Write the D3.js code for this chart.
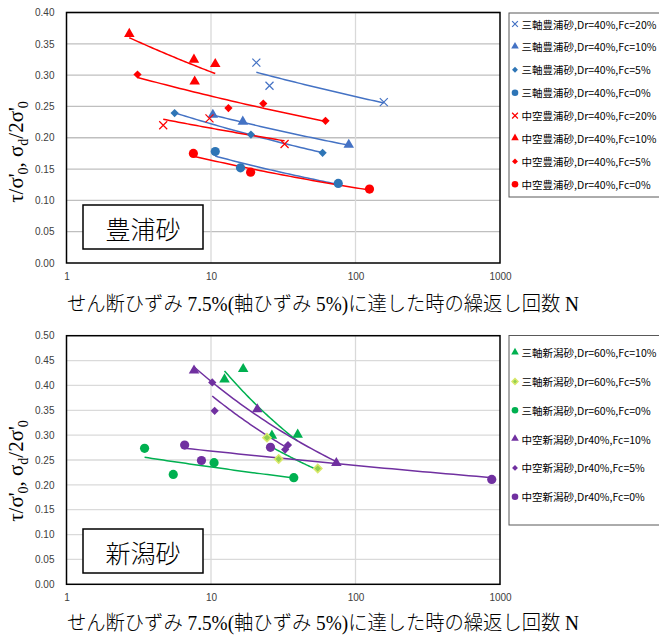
<!DOCTYPE html>
<html>
<head>
<meta charset="utf-8">
<script src="https://cdn.jsdelivr.net/npm/d3@7"></script>
<style>
  body { margin: 0; background: #fff; }
  svg { display: block; }
  .tick text { font-family: "Liberation Sans", "Open Sans", sans-serif; font-size: 10px; fill: #404040; }
  .legend text { font-family: "Noto Sans CJK JP", sans-serif; font-size: 10.5px; fill: #000; }
</style>
</head>
<body>
<div id="chart"></div>
<script>
// ---- data ----
// x = number of cycles N (log), y = tau/sigma'0 or sigma_d/2sigma'0

// 豊浦砂 (top chart)
var topNames = [
  "三軸豊浦砂,Dr=40%,Fc=20%",
  "三軸豊浦砂,Dr=40%,Fc=10%",
  "三軸豊浦砂,Dr=40%,Fc=5%",
  "三軸豊浦砂,Dr=40%,Fc=0%",
  "中空豊浦砂,Dr=40%,Fc=20%",
  "中空豊浦砂,Dr=40%,Fc=10%",
  "中空豊浦砂,Dr=40%,Fc=5%",
  "中空豊浦砂,Dr=40%,Fc=0%"
];
var topN = [
  [20.6, 25.4, 157],
  [10.3, 16.6, 89.8],
  [5.6, 18.9, 59.2],
  [10.7, 16.0, 76],
  [4.67, 9.76, 32.3],
  [2.72, 7.62, 10.7, 7.71],
  [3.1, 13.2, 23, 62],
  [7.55, 18.8, 125]
];
var topRatio = [
  [0.320, 0.283, 0.257],
  [0.236, 0.225, 0.188],
  [0.2395, 0.205, 0.176],
  [0.178, 0.152, 0.127],
  [0.220, 0.231, 0.190],
  [0.365, 0.324, 0.317, 0.289],
  [0.301, 0.2475, 0.2545, 0.227],
  [0.175, 0.145, 0.118]
];

// 新潟砂 (bottom chart)
var botNames = [
  "三軸新潟砂,Dr=60%,Fc=10%",
  "三軸新潟砂,Dr=60%,Fc=5%",
  "三軸新潟砂,Dr=60%,Fc=0%",
  "中空新潟砂,Dr40%,Fc=10%",
  "中空新潟砂,Dr40%,Fc=5%",
  "中空新潟砂,Dr40%,Fc=0%"
];
var botN = [
  [12.4, 16.7, 26.4, 39.8],
  [24.4, 29.4, 54.8],
  [3.47, 5.48, 10.5, 37.4],
  [7.63, 20.9, 73.7],
  [10.2, 10.6, 34.1, 32.6],
  [6.57, 8.59, 25.8, 877]
];
var botRatio = [
  [0.411, 0.432, 0.298, 0.300],
  [0.295, 0.252, 0.233],
  [0.2735, 0.221, 0.2446, 0.2145],
  [0.429, 0.351, 0.243],
  [0.406, 0.349, 0.280, 0.271],
  [0.280, 0.249, 0.2755, 0.211]
];

var xTicks = [1, 10, 100, 1000];
var topYTicks = [0, 0.05, 0.10, 0.15, 0.20, 0.25, 0.30, 0.35, 0.40];
var botYTicks = [0, 0.05, 0.10, 0.15, 0.20, 0.25, 0.30, 0.35, 0.40, 0.45, 0.50];

var xTitle = "せん断ひずみ 7.5%(軸ひずみ 5%)に達した時の繰返し回数 N";

// ---- marker styles ----
var blue = "#4472C4", blue2 = "#2E75B6", red = "#FF0000",
    green = "#00B050", purple = "#7030A0";

var topStyles = [
  { shape: "x", color: blue, line: blue },
  { shape: "tri", color: blue, line: blue },
  { shape: "dia", color: blue2, line: blue },
  { shape: "circ", color: blue2, line: blue },
  { shape: "x", color: red, line: red },
  { shape: "tri", color: red, line: red },
  { shape: "dia", color: red, line: red },
  { shape: "circ", color: red, line: red }
];
var botStyles = [
  { shape: "tri", color: green, line: green },
  { shape: "dia", color: "#92D050", stroke: "#D9E86A", line: green },
  { shape: "circ", color: green, line: green },
  { shape: "tri", color: purple, line: purple },
  { shape: "dia", color: purple, line: purple },
  { shape: "circ", color: purple, line: purple }
];

var width = 659, height = 636;

var svg = d3.select("#chart").append("svg")
  .attr("width", width)
  .attr("height", height);

// custom X symbol (stroked)
var symX = {
  draw: function(ctx, size) {
    var r = Math.sqrt(size) / 2;
    ctx.moveTo(-r, -r); ctx.lineTo(r, r);
    ctx.moveTo(r, -r); ctx.lineTo(-r, r);
  }
};

function marker(g, style, x, y, scale) {
  var s = scale || 1;
  if (style.shape === "x") {
    g.append("path")
      .attr("d", d3.symbol().type(symX).size(64 * s * s)())
      .attr("transform", "translate(" + x + "," + y + ")")
      .attr("fill", "none")
      .attr("stroke", style.color)
      .attr("stroke-width", 1.2);
  } else if (style.shape === "tri") {
    g.append("path")
      .attr("d", d3.symbol().type(d3.symbolTriangle).size(48 * s * s)())
      .attr("transform", "translate(" + x + "," + (y - 0.5) + ")")
      .attr("fill", style.color);
  } else if (style.shape === "dia") {
    g.append("path")
      .attr("d", d3.symbol().type(d3.symbolSquare).size(34 * s * s)())
      .attr("transform", "translate(" + x + "," + y + ") rotate(45)")
      .attr("fill", style.color)
      .attr("stroke", style.stroke || "none")
      .attr("stroke-width", style.stroke ? 1.5 : 0);
  } else {
    g.append("circle")
      .attr("cx", x).attr("cy", y)
      .attr("r", 4.6 * s)
      .attr("fill", style.color);
  }
}

// power trendline y = a * N^b (least squares on logs)
function powerFit(ns, ys) {
  var lx = ns.map(Math.log), ly = ys.map(Math.log);
  var mx = d3.mean(lx), my = d3.mean(ly);
  var sxy = d3.sum(lx, function(d, i) { return (d - mx) * (ly[i] - my); });
  var sxx = d3.sum(lx, function(d) { return (d - mx) * (d - mx); });
  var b = sxy / sxx, a = Math.exp(my - b * mx);
  return function(n) { return a * Math.pow(n, b); };
}

function drawPanel(opt) {
  var xScale = d3.scaleLog().domain([1, 1000]).range([66.5, 500]);
  var yScale = d3.scaleLinear().domain([0, opt.yMax]).range([opt.bottom, opt.top]);
  var g = svg.append("g");

  // grid
  g.selectAll(".hgrid").data(opt.yTicks.slice(1)).enter().append("line")
    .attr("x1", 66.5).attr("x2", 500)
    .attr("y1", function(d) { return yScale(d); })
    .attr("y2", function(d) { return yScale(d); })
    .attr("stroke", opt.gridColor).attr("stroke-width", 1.3);
  g.selectAll(".vgrid").data([10, 100]).enter().append("line")
    .attr("x1", function(d) { return xScale(d); })
    .attr("x2", function(d) { return xScale(d); })
    .attr("y1", opt.top).attr("y2", opt.bottom)
    .attr("stroke", "#D9D9D9").attr("stroke-width", 1.3);

  // axes
  var yAxis = d3.axisLeft(yScale).tickValues(opt.yTicks)
    .tickFormat(d3.format(".2f")).tickSize(0).tickPadding(12);
  g.append("g").attr("transform", "translate(66.5,0)").call(yAxis)
    .call(function(a) { a.select(".domain").remove(); });
  var xAxis = d3.axisBottom(xScale).tickValues(xTicks)
    .tickFormat(d3.format("d")).tickSize(0).tickPadding(10);
  g.append("g").attr("transform", "translate(0," + opt.bottom + ")").call(xAxis)
    .call(function(a) { a.select(".domain").remove(); });

  // plot border
  g.append("rect")
    .attr("x", 66.5).attr("y", opt.top)
    .attr("width", 500 - 66.5).attr("height", opt.bottom - opt.top)
    .attr("fill", "none").attr("stroke", "#000").attr("stroke-width", 1.5);

  // trendlines then points
  opt.ns.forEach(function(ns, i) {
    var f = powerFit(ns, opt.ys[i]);
    var lo = d3.min(ns), hi = d3.max(ns);
    var pts = d3.range(0, 41).map(function(k) {
      var n = lo * Math.pow(hi / lo, k / 40);
      return [xScale(n), yScale(f(n))];
    });
    g.append("path").attr("d", d3.line()(pts))
      .attr("fill", "none").attr("stroke", opt.styles[i].line)
      .attr("stroke-width", 1.5);
  });
  opt.ns.forEach(function(ns, i) {
    ns.forEach(function(n, j) {
      marker(g, opt.styles[i], xScale(n), yScale(opt.ys[i][j]));
    });
  });

  // sand name box
  g.append("rect")
    .attr("x", 83).attr("y", opt.boxY).attr("width", 120).attr("height", 44)
    .attr("fill", "#fff").attr("stroke", "#000").attr("stroke-width", 1.5);
  g.append("text")
    .attr("x", 143).attr("y", opt.boxY + 23)
    .attr("text-anchor", "middle").attr("dominant-baseline", "central")
    .style("font-family", "'Noto Sans CJK JP', sans-serif")
    .style("font-weight", 300)
    .style("font-size", "25px")
    .text(opt.boxLabel);

  // y title
  var yt = g.append("text")
    .attr("transform", "translate(23," + opt.yTitleY + ") rotate(-90)")
    .attr("text-anchor", "middle")
    .style("font-family", "'Liberation Serif', serif")
    .style("font-size", "21px");
  yt.append("tspan").text("τ/σ'");
  yt.append("tspan").attr("dy", 5).attr("dx", -1).style("font-size", "14px").text("0");
  yt.append("tspan").attr("dy", -5).text(", σ");
  yt.append("tspan").attr("dy", 5).style("font-size", "14px").text("d");
  yt.append("tspan").attr("dy", -5).text("/2σ'");
  yt.append("tspan").attr("dy", 5).attr("dx", -1).style("font-size", "14px").text("0");

  // x title
  g.append("text")
    .attr("x", 67).attr("y", opt.xTitleY)
    .attr("textLength", 512).attr("lengthAdjust", "spacingAndGlyphs")
    .style("font-family", "'Liberation Serif', 'Noto Sans CJK JP', serif")
    .style("font-weight", 300)
    .style("font-size", "20px")
    .text(xTitle);

  // legend
  var lg = g.append("g").attr("class", "legend");
  lg.append("rect")
    .attr("x", 509).attr("y", opt.legTop)
    .attr("width", 160).attr("height", opt.legBottom - opt.legTop)
    .attr("fill", "#fff").attr("stroke", "#595959").attr("stroke-width", 1);
  opt.names.forEach(function(name, i) {
    var y = opt.legFirst + i * opt.legStep;
    marker(lg, opt.styles[i], 515, y, 0.72);
    lg.append("text").attr("x", 521.5).attr("y", y)
      .attr("dominant-baseline", "central")
      .text(name);
  });
}

drawPanel({
  top: 12.5, bottom: 263, yMax: 0.40, yTicks: topYTicks,
  gridColor: "#BFBFBF",
  ns: topN, ys: topRatio, styles: topStyles, names: topNames,
  boxY: 205, boxLabel: "豊浦砂",
  yTitleY: 152, xTitleY: 311,
  legTop: 13, legBottom: 197, legFirst: 24, legStep: 22.9
});

drawPanel({
  top: 335.7, bottom: 584.3, yMax: 0.50, yTicks: botYTicks,
  gridColor: "#DADADA",
  ns: botN, ys: botRatio, styles: botStyles, names: botNames,
  boxY: 529, boxLabel: "新潟砂",
  yTitleY: 471, xTitleY: 630,
  legTop: 335.5, legBottom: 525, legFirst: 352.7, legStep: 28.8
});
</script>
</body>
</html>
